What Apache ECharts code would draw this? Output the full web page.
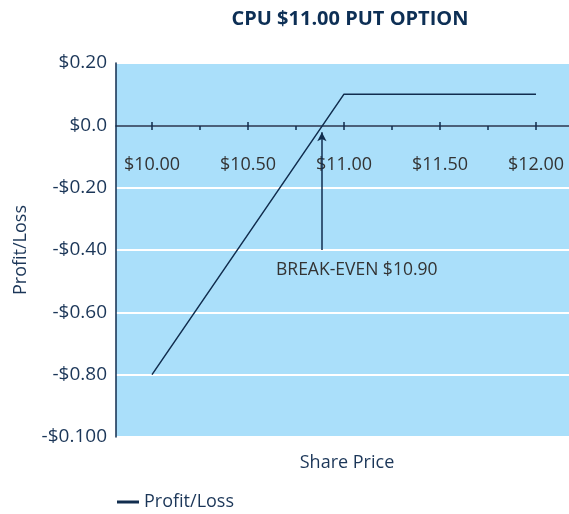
<!DOCTYPE html>
<html>
<head>
<meta charset="utf-8">
<script src="https://cdn.jsdelivr.net/npm/echarts@6/dist/echarts.min.js"></script>
<style>
  html, body { margin: 0; padding: 0; background: #fff; }
  #main { width: 569px; height: 514px; }
</style>
</head>
<body>
<div id="main"></div>
<script>
var chartDom = document.getElementById('main');
var myChart = echarts.init(chartDom);
var option;

// share price vs profit/loss of the put
var sharePrices = [10.00, 11.00, 12.00];
var profitLoss = [-0.80, 0.10, 0.10];

// x ticks / labels
var xLabelValues = [10.00, 10.50, 11.00, 11.50, 12.00];
var xTickValues = [10.00, 10.25, 10.50, 10.75, 11.00, 11.25, 11.50, 11.75, 12.00];

// y ticks and their (as printed) labels
var yTickValues = [0.2, 0, -0.2, -0.4, -0.6, -0.8, -1.0];
var yTickLabels = ['$0.20', '$0.0', '-$0.20', '-$0.40', '-$0.60', '-$0.80', '-$0.100'];

// break-even annotation
var breakEven = 10.885;
var arrowTop = -0.022;
var arrowBottom = -0.40;
var breakEvenText = 'BREAK-EVEN $10.90';
var labelAnchor = [10.646, -0.463];

var xMin = 9.8125;
var xMax = 12.172;

var navy = '#112d4e';
var font = 'Open Sans';
// sit the x axis on the y = 0 line (grid height 374px, zero 63px from top)
var zeroOffset = -311;

option = {
  title: [
    {
      text: 'CPU $11.00 PUT OPTION',
      left: 345,
      top: 4,
      textAlign: 'center',
      textStyle: {
        color: '#0d2f55',
        fontFamily: font,
        fontWeight: 'bold',
        fontSize: 20
      }
    },
    {
      text: 'Share Price',
      left: 342,
      top: 449,
      textAlign: 'center',
      textStyle: {
        color: '#1b3658',
        fontFamily: font,
        fontWeight: 'normal',
        fontSize: 18
      }
    }
  ],
  legend: {
    left: 112,
    top: 488,
    icon: 'rect',
    itemWidth: 22,
    itemHeight: 3,
    itemGap: 8,
    textStyle: {
      color: '#1b3658',
      fontFamily: font,
      fontSize: 18
    },
    data: ['Profit/Loss']
  },
  grid: {
    left: 116,
    top: 63,
    right: 0,
    bottom: 77,
    show: true,
    backgroundColor: '#aadffa',
    borderWidth: 0
  },
  xAxis: [
    {
      type: 'value',
      min: xMin,
      max: xMax,
      position: 'bottom',
      offset: zeroOffset,
      axisLine: {
        onZero: false,
        lineStyle: { color: navy, width: 1.5 }
      },
      axisTick: {
        show: true,
        length: 4,
        customValues: xTickValues,
        lineStyle: { color: navy, width: 1.5 }
      },
      axisLabel: {
        customValues: xLabelValues,
        margin: 30,
        color: '#333',
        fontFamily: font,
        fontSize: 18,
        formatter: function (v) {
          return '$' + v.toFixed(2);
        }
      },
      splitLine: { show: false }
    },
    {
      // upper half of the major ticks (they cross the axis line)
      type: 'value',
      min: xMin,
      max: xMax,
      position: 'bottom',
      offset: zeroOffset,
      axisLine: { show: false, onZero: false },
      axisTick: {
        show: true,
        inside: true,
        length: 4,
        customValues: xLabelValues,
        lineStyle: { color: navy, width: 1.5 }
      },
      axisLabel: { show: false },
      splitLine: { show: false }
    }
  ],
  yAxis: {
    type: 'value',
    min: -1.0,
    max: 0.2,
    interval: 0.2,
    name: 'Profit/Loss',
    nameLocation: 'middle',
    nameGap: 86,
    nameTextStyle: {
      color: '#1b3658',
      fontFamily: font,
      fontSize: 18
    },
    axisLine: {
      show: true,
      lineStyle: { color: navy, width: 1.5 }
    },
    axisTick: { show: false },
    axisLabel: {
      margin: 9,
      color: '#1b3658',
      fontFamily: font,
      fontSize: 19,
      formatter: function (v) {
        for (var i = 0; i < yTickValues.length; i++) {
          if (Math.abs(v - yTickValues[i]) < 1e-6) return yTickLabels[i];
        }
        return '';
      }
    },
    splitLine: {
      show: true,
      lineStyle: { color: '#ffffff', width: 2 }
    }
  },
  series: [
    {
      name: 'Profit/Loss',
      type: 'line',
      xAxisIndex: 0,
      showSymbol: false,
      symbol: 'none',
      color: navy,
      lineStyle: { color: navy, width: 1.5 },
      data: sharePrices.map(function (p, i) {
        return [p, profitLoss[i]];
      }),
      markLine: {
        silent: true,
        symbolSize: [7, 9],
        lineStyle: { color: navy, width: 1.5, type: 'solid' },
        label: { show: false },
        data: [
          [
            { coord: [breakEven, arrowTop], symbol: 'arrow' },
            { coord: [breakEven, arrowBottom], symbol: 'none' }
          ]
        ]
      },
      markPoint: {
        silent: true,
        symbol: 'circle',
        symbolSize: 0,
        label: {
          show: true,
          position: 'right',
          distance: 0,
          color: '#333',
          fontFamily: font,
          fontSize: 17.5,
          formatter: breakEvenText
        },
        data: [{ coord: labelAnchor }]
      }
    }
  ]
};

option && myChart.setOption(option);
</script>
</body>
</html>
